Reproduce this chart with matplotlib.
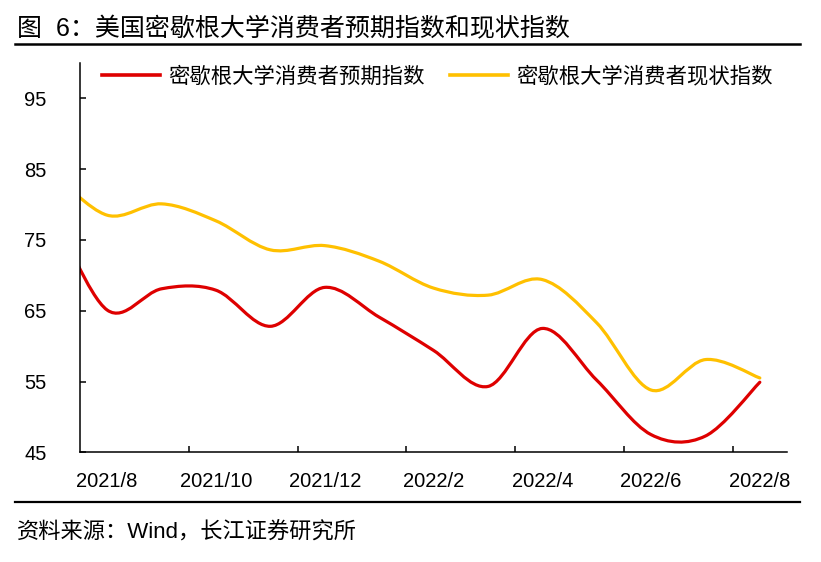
import matplotlib
matplotlib.use("Agg")
import matplotlib.pyplot as plt
from matplotlib.path import Path
from matplotlib.patches import PathPatch
from matplotlib.lines import Line2D

plt.rcParams['font.family'] = ['Liberation Sans', 'Noto Sans CJK SC', 'DejaVu Sans']

# 月份（2021/7 ~ 2022/8），2021/7 在坐标轴左侧之外
months = ['2021/7', '2021/8', '2021/9', '2021/10', '2021/11', '2021/12',
          '2022/1', '2022/2', '2022/3', '2022/4', '2022/5', '2022/6',
          '2022/7', '2022/8']
expect = [79.0, 65.1, 68.1, 67.9, 62.8, 68.3, 64.1, 59.4, 54.3, 62.5,
          55.2, 47.5, 47.3, 54.9]
current = [84.5, 78.5, 80.1, 77.7, 73.6, 74.2, 72.0, 68.2, 67.2, 69.4,
           63.3, 53.8, 58.1, 55.5]
name_expect = '密歇根大学消费者预期指数'
name_current = '密歇根大学消费者现状指数'
yticks = [45, 55, 65, 75, 85, 95]


def smooth_path(xs, ys):
    # 类似 Excel 平滑线：三次贝塞尔曲线 (Catmull-Rom)
    verts = [(xs[0], ys[0])]
    codes = [Path.MOVETO]
    n = len(xs)
    for i in range(n - 1):
        a = i - 1 if i > 0 else i
        d = i + 2 if i + 2 < n else i + 1
        c1 = (xs[i] + (xs[i + 1] - xs[a]) / 6, ys[i] + (ys[i + 1] - ys[a]) / 6)
        c2 = (xs[i + 1] - (xs[d] - xs[i]) / 6, ys[i + 1] - (ys[d] - ys[i]) / 6)
        verts += [c1, c2, (xs[i + 1], ys[i + 1])]
        codes += [Path.CURVE4] * 3
    return Path(verts, codes)


red = '#DE0000'
gold = '#FFC000'

fig = plt.figure(figsize=(8.21, 5.62), dpi=100)
ax = fig.add_axes([0.0974, 0.1952, 0.8612, 0.6927])

x = list(range(len(months)))
ax.add_patch(PathPatch(smooth_path(x, expect), fill=False, edgecolor=red,
                       lw=2.3, capstyle='round', joinstyle='round'))
ax.add_patch(PathPatch(smooth_path(x, current), fill=False, edgecolor=gold,
                       lw=2.3, capstyle='round', joinstyle='round'))

ax.set_xlim(0.5, len(months) - 0.5)
ax.set_ylim(45, 100)

for s in ['top', 'right']:
    ax.spines[s].set_visible(False)
for s in ['left', 'bottom']:
    ax.spines[s].set_linewidth(1.1)

ax.set_yticks(yticks)
ax.set_yticklabels([str(v) for v in yticks])
ax.tick_params(axis='y', direction='in', length=4, width=1.1, pad=24,
               labelsize=14.5)

# 主刻度在每两个月的边界，标签居中在月份上
ax.set_xticks([i + 0.5 for i in range(2, len(months), 2)])
ax.set_xticklabels([])
ax.set_xticks(x[1::2], minor=True)
ax.set_xticklabels(months[1::2], minor=True)
ax.tick_params(axis='x', which='major', direction='in', length=4, width=1.1)
ax.tick_params(axis='x', which='minor', length=0, pad=14, labelsize=14.5)

handles = [Line2D([], [], color=red, lw=2.6), Line2D([], [], color=gold, lw=2.6)]
ax.legend(handles, [name_expect, name_current], ncol=2, frameon=False,
          loc='center left', bbox_to_anchor=(0.031, 0.966), borderpad=0,
          borderaxespad=0, handlelength=2.7, handletextpad=0.4,
          columnspacing=1.2, fontsize=15.4)

fig.text(0.021, 1 - 29 / 562, '图  6：美国密歇根大学消费者预期指数和现状指数',
         fontsize=18, va='center', ha='left')
fig.add_artist(Line2D([0.018, 0.975], [1 - 44 / 562, 1 - 44 / 562],
                      color='black', lw=1.8, transform=fig.transFigure))
fig.add_artist(Line2D([0.018, 0.975], [1 - 502 / 562, 1 - 502 / 562],
                      color='black', lw=1.6, transform=fig.transFigure))
fig.text(0.021, 1 - 533 / 562, '资料来源：Wind，长江证券研究所',
         fontsize=16, va='center', ha='left')

fig.savefig('out.png', dpi=100)
